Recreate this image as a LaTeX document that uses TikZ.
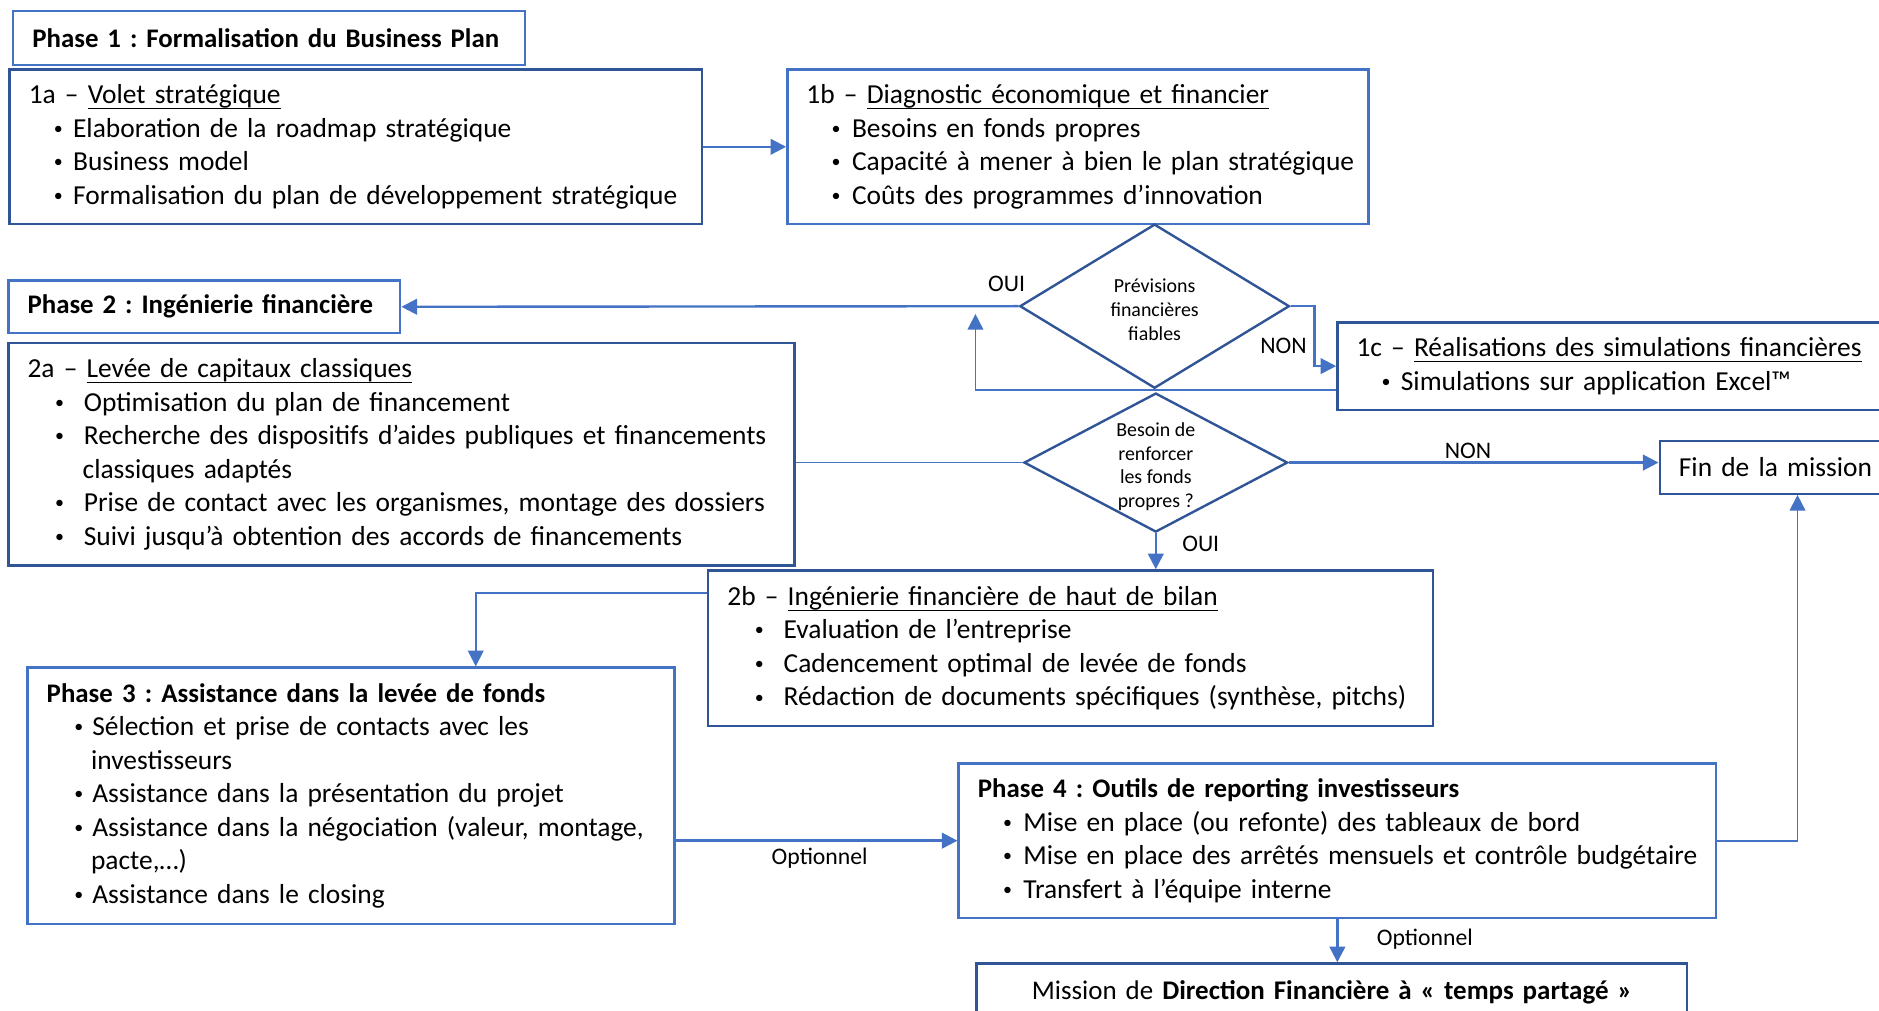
\documentclass[tikz,border=0pt]{standalone}
\usepackage{fontspec}
\setmainfont{Carlito}
\usepackage{tikz}
\usetikzlibrary{arrows.meta,shapes.geometric,positioning,calc}
\definecolor{bleu}{HTML}{4472C4}
\definecolor{bleufonce}{HTML}{2F5597}
\frenchspacing
\newcommand{\corps}{\fontsize{11.45}{14}\selectfont}
\newcommand{\titre}{\fontsize{11.2}{14}\selectfont\bfseries}
\newcommand{\petit}{\fontsize{8.3}{10}\selectfont}
\newcommand{\moyen}{\fontsize{9.9}{12}\selectfont}
\newcommand{\souligne}[1]{\setbox0\hbox{#1}\rlap{\rule[-2.4pt]{\wd0}{0.6pt}}\box0}
\newcommand{\rond}{\raisebox{1.2pt}{\fontsize{7.5}{7.5}\selectfont\textbullet}}
\newcommand{\puce}[3]{\mbox{\hspace*{#1}\makebox[#2][l]{\rond}#3}}
\tikzstyle{boite} = [draw=bleu, line width=1pt, anchor=north west, align=left,
	inner xsep=8pt, inner ysep=0pt, font=\corps]
\tikzstyle{boitefonce} = [boite, draw=bleufonce]
\tikzstyle{losange} = [diamond, draw=bleufonce, line width=1pt, inner sep=0pt,
	align=center, font=\petit]
\tikzstyle{etiquette} = [font=\moyen, inner sep=0pt]
\tikzstyle{fleche} = [draw=bleu, line width=1pt, -{Triangle[length=6.5pt,width=6.5pt]}]
\tikzstyle{fleche mince} = [fleche, line width=0.75pt]
\tikzstyle{trait} = [draw=bleu, line width=0.6pt]

\begin{document}
\begin{tikzpicture}[x=0.5pt,y=-0.5pt]
	\useasboundingbox (0,0) rectangle (1568,843);
	\clip (0,0) rectangle (1568,843);

	% phase 1
	\node[boite, text width=197.5pt, minimum height=22.5pt, font=\titre] (phaseun) at (10,8)
		{\mbox{Phase 1 : Formalisation du Business Plan}};
	\node[boitefonce, text width=273pt, minimum height=64.5pt] (volet) at (7,57)
		{1a – \souligne{Volet stratégique}\\
		\puce{10.5pt}{8pt}{Elaboration de la roadmap stratégique}\\
		\puce{10.5pt}{8pt}{Business model}\\
		\puce{10.5pt}{8pt}{Formalisation du plan de développement stratégique}};
	\node[boite, text width=226.5pt, minimum height=64.5pt] (diag) at (656,57)
		{1b – \souligne{Diagnostic économique et financier}\\
		\puce{10.5pt}{8.5pt}{Besoins en fonds propres}\\
		\puce{10.5pt}{8.5pt}{Capacité à mener à bien le plan stratégique}\\
		\puce{10.5pt}{8.5pt}{Coûts des programmes d’innovation}};
	\node[losange, minimum width=112.5pt, minimum height=68.5pt, aspect=1.64] (prev) at (963.5,255.5)
		{\rule{0pt}{8.5pt}Prévisions\\financières\\fiables};
	\node[boitefonce, text width=224pt, minimum height=36.5pt] (simu) at (1115,268)
		{1c – \souligne{Réalisations des simulations financières}\\
		\puce{10.5pt}{8pt}{Simulations sur application Excel™}};

	% phase 2
	\node[boite, text width=147.5pt, minimum height=22pt, font=\titre] (phasedeux) at (6,233)
		{\mbox{Phase 2 : Ingénierie financière}};
	\node[boitefonce, text width=312pt, minimum height=93pt] (levee) at (6,285)
		{2a – \souligne{Levée de capitaux classiques}\\
		\puce{11.5pt}{12pt}{Optimisation du plan de financement}\\
		\puce{11.5pt}{12pt}{Recherche des dispositifs d’aides publiques et financements}\\
		\mbox{\hspace*{23pt}classiques adaptés}\\
		\puce{11.5pt}{12pt}{Prise de contact avec les organismes, montage des dossiers}\\
		\puce{11.5pt}{12pt}{Suivi jusqu’à obtention des accords de financements}};
	\node[losange, minimum width=110pt, minimum height=58pt, aspect=1.9] (besoin) at (964.5,386)
		{\rule{0pt}{9.2pt}Besoin de\\renforcer\\les fonds\\propres ?};
	\node[boitefonce, text width=99pt, minimum height=22pt] (fin) at (1384,367)
		{Fin de la mission};
	\node[boitefonce, text width=286.5pt, minimum height=65pt] (haut) at (590,475)
		{2b – \souligne{Ingénierie financière de haut de bilan}\\
		\puce{11.5pt}{12pt}{Evaluation de l’entreprise}\\
		\puce{11.5pt}{12pt}{Cadencement optimal de levée de fonds}\\
		\puce{11.5pt}{12pt}{Rédaction de documents spécifiques (synthèse, pitchs)}};

	% phases 3 et 4
	\node[boite, text width=254pt, minimum height=107pt] (phasetrois) at (22,556)
		{{\titre Phase 3 : Assistance dans la levée de fonds}\\
		\puce{11.5pt}{7.5pt}{Sélection et prise de contacts avec les}\\
		\mbox{\hspace*{18.5pt}investisseurs}\\
		\puce{11.5pt}{7.5pt}{Assistance dans la présentation du projet}\\
		\puce{11.5pt}{7.5pt}{Assistance dans la négociation (valeur, montage,}\\
		\mbox{\hspace*{18.5pt}pacte,…)}\\
		\puce{11.5pt}{7.5pt}{Assistance dans le closing}};
	\node[boite, text width=300pt, minimum height=64.5pt] (phasequatre) at (799,636)
		{{\titre Phase 4 : Outils de reporting investisseurs}\\
		\puce{10.5pt}{8.5pt}{Mise en place (ou refonte) des tableaux de bord}\\
		\puce{10.5pt}{8.5pt}{Mise en place des arrêtés mensuels et contrôle budgétaire}\\
		\puce{10.5pt}{8.5pt}{Transfert à l’équipe interne}};
	\node[boitefonce, text width=280.5pt, minimum height=24pt, align=center,
		font=\fontsize{11.25}{14}\selectfont] (dirfin) at (814,803)
		{Mission de \textbf{Direction Financière à «~temps partagé~»}};

	% etiquettes
	\node[etiquette] (ouiun) at (840,237) {OUI};
	\node[etiquette] (nonun) at (1071,289) {NON};
	\node[etiquette] (nondeux) at (1225,376) {NON};
	\node[etiquette] (ouideux) at (1002,454) {OUI};
	\node[etiquette] (optun) at (684,716) {Optionnel};
	\node[etiquette] (optdeux) at (1189,784) {Optionnel};

	% liaisons
	\coordinate (retour) at (814,262);
	\draw[fleche] (volet.east) -- (diag.west);
	\draw[fleche] (prev.west) -- (phasedeux.east);
	\draw[fleche] (prev.east) -- ++(20,0) |- (simu.west);
	\draw[fleche mince] ([yshift=-10pt]simu.west) -| (retour);
	\draw[trait] (levee.east |- besoin.west) -- (besoin.west);
	\draw[fleche] (besoin.east) -- (besoin.east -| fin.west);
	\draw[fleche] (besoin.south) -- (besoin.south |- haut.north);
	\draw[fleche mince] ([yshift=-10pt]haut.north west) -| ([xshift=52pt]phasetrois.north);
	\draw[fleche] (phasetrois.east |- phasequatre.west) -- (phasequatre.west);
	\draw[fleche mince] (phasequatre.east) -| (fin.south);
	\draw[fleche] (phasequatre.south) -- (phasequatre.south |- dirfin.north);
\end{tikzpicture}
\end{document}
